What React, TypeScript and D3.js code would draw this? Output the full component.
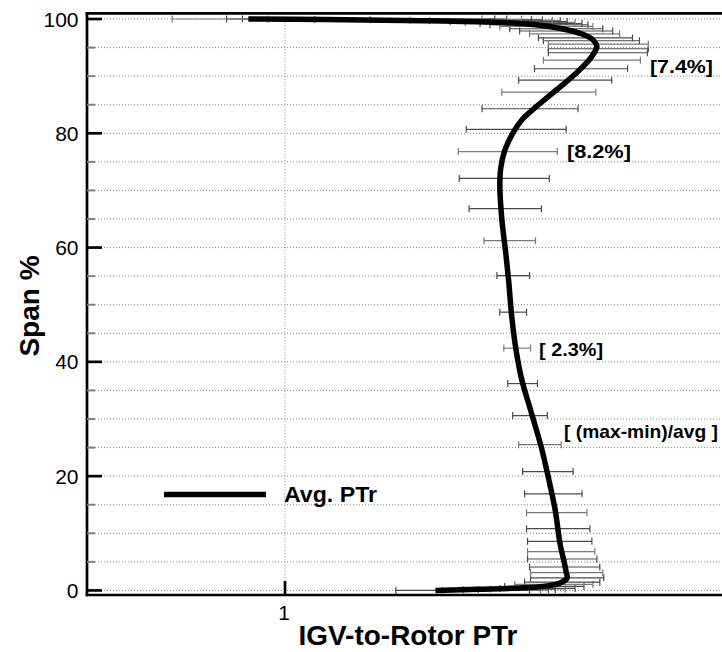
import React from 'react';
import * as d3 from 'd3';

// ---------- data ----------
const majorSpanTicks = [0, 20, 40, 60, 80, 100];
const majorSpanLabels = ['0', '20', '40', '60', '80', '100'];
const minorSpanTicks = [5, 10, 15, 25, 30, 35, 45, 50, 55, 65, 70, 75, 85, 90, 95];
const gridSpans = [0, 5, 10, 15, 20, 25, 30, 35, 40, 45, 50, 55, 60, 65, 70, 75, 80, 85, 90, 95, 100];
const xTickValues = [1];
const xTickLabels = ['1'];

// average PTr profile (span %, PTr)
const avgSpan = [0, 0.2, 0.45, 0.8, 1.3, 2.2, 3.2, 5, 8, 14, 19, 25, 31, 37, 42.5, 48, 54, 59, 65, 71, 74, 77, 80, 82.5, 85, 87, 89, 91, 93, 94.3, 95.2, 96.5, 97.5, 98.3, 99.0, 99.4, 99.65, 99.8, 99.9, 100];
const avgPTr = [1.152, 1.195, 1.240, 1.265, 1.278, 1.285, 1.284, 1.282, 1.278, 1.273, 1.267, 1.259, 1.249, 1.239, 1.233, 1.229, 1.226, 1.223, 1.219, 1.217, 1.218, 1.222, 1.230, 1.240, 1.256, 1.270, 1.284, 1.297, 1.308, 1.313, 1.315, 1.310, 1.298, 1.280, 1.253, 1.217, 1.160, 1.100, 1.040, 0.963];

// min / max ranges
const barSpan = [0, 0.05, 0.1, 0.17, 0.25, 0.35, 0.7, 1.05, 1.45, 2.2, 3.1, 4.1, 5.5, 6.8, 8.6, 10.8, 13.6, 16.9, 20.8, 25.5, 30.6, 36.2, 42.4, 48.7, 55.1, 61.2, 66.8, 72.1, 76.8, 80.7, 84.3, 87.2, 89.3, 91.3, 92.8, 94.1, 94.8, 95.6, 96.2, 96.7, 97.4, 97.9, 98.3, 98.7, 99.0, 99.2, 99.4, 99.55, 99.7, 99.8, 99.85, 99.9, 99.95, 100, 100, 100];
const barMin = [1.112, 1.159, 1.180, 1.195, 1.207, 1.217, 1.222, 1.232, 1.242, 1.248, 1.248, 1.247, 1.245, 1.245, 1.245, 1.244, 1.244, 1.242, 1.240, 1.236, 1.230, 1.225, 1.221, 1.217, 1.214, 1.201, 1.186, 1.176, 1.175, 1.183, 1.199, 1.219, 1.236, 1.252, 1.261, 1.266, 1.266, 1.266, 1.261, 1.256, 1.247, 1.237, 1.227, 1.217, 1.207, 1.197, 1.182, 1.167, 1.146, 1.126, 1.086, 1.030, 0.983, 0.957, 0.941, 0.886];
const barMax = [1.247, 1.258, 1.266, 1.273, 1.283, 1.293, 1.302, 1.311, 1.318, 1.322, 1.321, 1.318, 1.315, 1.313, 1.310, 1.308, 1.305, 1.300, 1.291, 1.279, 1.265, 1.255, 1.248, 1.244, 1.247, 1.253, 1.259, 1.267, 1.275, 1.284, 1.296, 1.314, 1.330, 1.346, 1.359, 1.366, 1.367, 1.367, 1.358, 1.351, 1.338, 1.331, 1.321, 1.311, 1.306, 1.300, 1.293, 1.285, 1.278, 1.270, 1.260, 1.249, 1.239, 1.224, 1.212, 1.199];

// annotations
const noteTexts = ['[7.4%]', '[8.2%]', '[ 2.3%]', '[ (max-min)/avg ]'];
const noteSpan = [91.7, 76.9, 42.2, 27.9];
const notePTr = [1.3687, 1.2848, 1.2566, 1.2818];
const noteWidths = [63, 64, 64, 154];

const legendLabel = 'Avg. PTr';
const xTitle = 'IGV-to-Rotor PTr';
const yTitle = 'Span %';

// ---------- chart ----------
const W = 722;
const H = 652;
const FONT = '"Liberation Sans", Arial, Helvetica, sans-serif';

export default function App() {
  const x = d3.scaleLinear().domain([0.8, 1.5]).range([87, 780]);
  const y = d3.scaleLinear().domain([-0.8, 101]).range([595, 13.3]);

  const left = x(0.8);
  const top = y(101);
  const bottom = y(-0.8);
  const right = W;

  const pts: [number, number][] = avgSpan.map((s, i) => [s, avgPTr[i]] as [number, number]);
  const line = d3
    .line<[number, number]>()
    .x((d) => x(d[1]))
    .y((d) => y(d[0]))
    .curve(d3.curveCatmullRom.alpha(0.5));

  const capH = 3.5;

  return (
    <svg
      width={W}
      height={H}
      viewBox={`0 0 ${W} ${H}`}
      style={{ position: 'absolute', left: 0, top: 0, background: '#fff' }}
      fontFamily={FONT}
    >
      <rect x={0} y={0} width={W} height={H} fill="#fff" />
      {/* horizontal grid */}
      {gridSpans.map((s) => (
        <line key={'g' + s} x1={left + 2} x2={right} y1={y(s)} y2={y(s)} stroke="#8a8a8a" strokeWidth={1} strokeDasharray="1 2" />
      ))}
      {/* vertical grid */}
      {xTickValues.map((v) => (
        <line key={'gv' + v} x1={x(v)} x2={x(v)} y1={top} y2={bottom} stroke="#8a8a8a" strokeWidth={1} strokeDasharray="1 2" />
      ))}

      {/* error bars */}
      {barSpan.map((s, i) => {
        const yy = y(s);
        const x1 = x(barMin[i]);
        const x2 = x(barMax[i]);
        const col = i % 3 === 1 ? '#7a7a7a' : '#4a4a4a';
        return (
          <g key={'b' + i} stroke={col} strokeWidth={1.2}>
            <line x1={x1} x2={x2} y1={yy} y2={yy} />
            <line x1={x1} x2={x1} y1={yy - capH} y2={yy + capH} />
            <line x1={x2} x2={x2} y1={yy - capH} y2={yy + capH} />
          </g>
        );
      })}

      {/* average curve */}
      <path d={line(pts) || ''} fill="none" stroke="#000" strokeWidth={5.5} strokeLinejoin="round" />

      {/* axes frame */}
      <line x1={left} x2={left} y1={top} y2={bottom} stroke="#000" strokeWidth={2.7} strokeLinecap="square" />
      <line x1={left} x2={right} y1={top} y2={top} stroke="#000" strokeWidth={2.7} strokeLinecap="square" />
      <line x1={left} x2={right} y1={bottom} y2={bottom} stroke="#000" strokeWidth={2.7} strokeLinecap="square" />

      {/* y ticks */}
      {minorSpanTicks.map((s) => (
        <line key={'mt' + s} x1={left} x2={left + 8} y1={y(s)} y2={y(s)} stroke="#808080" strokeWidth={2} />
      ))}
      {majorSpanTicks.map((s, i) => (
        <g key={'Mt' + s}>
          <line x1={left} x2={left + 15} y1={y(s)} y2={y(s)} stroke="#000" strokeWidth={2.7} />
          <text x={78.5} y={y(s)} dy="0.36em" textAnchor="end" fontSize={21} fill="#000">
            {majorSpanLabels[i]}
          </text>
        </g>
      ))}

      {/* x ticks */}
      {xTickValues.map((v, i) => (
        <g key={'xt' + v}>
          <line x1={x(v)} x2={x(v)} y1={bottom} y2={bottom - 14} stroke="#000" strokeWidth={2.7} />
          <text x={x(v) - 1} y={620} textAnchor="middle" fontSize={21} fill="#000">
            {xTickLabels[i]}
          </text>
        </g>
      ))}

      {/* axis titles */}
      <text x={408} y={645} textAnchor="middle" fontSize={28} fontWeight="bold" fill="#000" textLength={219} lengthAdjust="spacingAndGlyphs">
        {xTitle}
      </text>
      <text
        transform={`translate(39,306) rotate(-90)`}
        textAnchor="middle"
        fontSize={28}
        fontWeight="bold"
        fill="#000"
      >
        {yTitle}
      </text>

      {/* annotations */}
      {noteTexts.map((t, i) => (
        <text
          key={'n' + i}
          x={x(notePTr[i])}
          y={y(noteSpan[i])}
          dy="0.36em"
          fontSize={19}
          fontWeight="bold"
          fill="#000"
          textLength={noteWidths[i]}
          lengthAdjust="spacingAndGlyphs"
        >
          {t}
        </text>
      ))}

      {/* legend */}
      <line x1={164} x2={266} y1={494.5} y2={494.5} stroke="#000" strokeWidth={5.5} />
      <text x={284} y={501.5} fontSize={22} fontWeight="bold" fill="#000" textLength={93} lengthAdjust="spacingAndGlyphs">
        {legendLabel}
      </text>
    </svg>
  );
}
